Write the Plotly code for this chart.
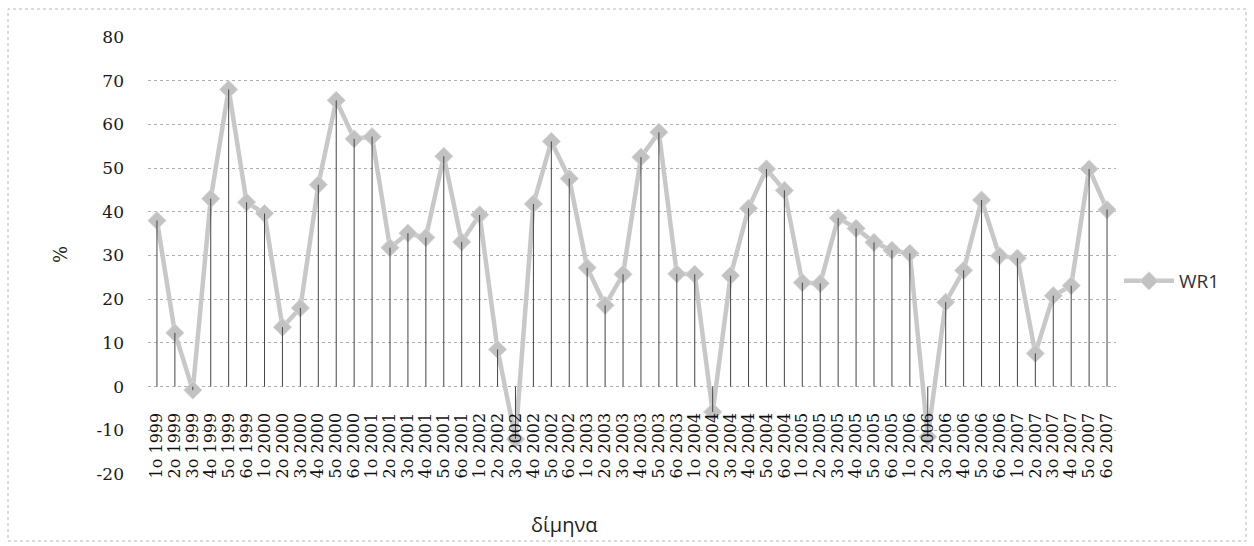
import plotly.graph_objects as go

# Bimonthly periods 1999-2007
years = [1999, 2000, 2001, 2002, 2003, 2004, 2005, 2006, 2007]
bimonths = [1, 2, 3, 4, 5, 6]
periods = [f"{b}ο {y}" for y in years for b in bimonths]

# WR1 values (%) per bimonth
wr1_1999 = [38.0, 12.3, -0.8, 43.0, 68.0, 42.2]
wr1_2000 = [39.6, 13.6, 18.0, 46.2, 65.5, 56.7]
wr1_2001 = [57.2, 31.8, 35.1, 34.1, 52.7, 33.1]
wr1_2002 = [39.3, 8.5, -12.0, 41.8, 56.1, 47.6]
wr1_2003 = [27.2, 18.6, 25.7, 52.5, 58.2, 25.8]
wr1_2004 = [25.7, -5.8, 25.4, 40.8, 49.8, 44.9]
wr1_2005 = [23.8, 23.6, 38.6, 36.2, 33.0, 31.2]
wr1_2006 = [30.5, -11.5, 19.3, 26.6, 42.7, 29.9]
wr1_2007 = [29.4, 7.6, 20.8, 23.1, 49.8, 40.5]
wr1 = wr1_1999 + wr1_2000 + wr1_2001 + wr1_2002 + wr1_2003 + wr1_2004 + wr1_2005 + wr1_2006 + wr1_2007

y_ticks = [-20, -10, 0, 10, 20, 30, 40, 50, 60, 70, 80]
y_tick_text = [str(v) for v in y_ticks]

# Plot-area geometry in pixels
W, H = 1254, 546
L, R, T, B = 148, 138, 37, 72
pw, ph = W - L - R, H - T - B


def px_x(p):
    return (p - L) / pw


def px_y(p):
    return (H - B - p) / ph


fig = go.Figure()

fig.add_trace(go.Scatter(
    x=periods, y=wr1, mode="lines+markers", name="WR1",
    line=dict(color="#c8c8c8", width=4.5),
    marker=dict(symbol="diamond", size=14, color="#c2c2c2",
                line=dict(color="#d8d8d8", width=1)),
))

# Drop lines from the zero level to each point
drop_x, drop_y = [], []
for p, v in zip(periods, wr1):
    drop_x += [p, p, None]
    drop_y += [0, v, None]
fig.add_trace(go.Scatter(
    x=drop_x, y=drop_y, mode="lines", showlegend=False, hoverinfo="skip",
    line=dict(color="#454545", width=1),
))

fig.update_layout(
    width=W, height=H,
    margin=dict(l=L, r=R, t=T, b=B),
    paper_bgcolor="white", plot_bgcolor="white",
    showlegend=True,
    legend=dict(x=px_x(1119), y=px_y(281), xanchor="left", yanchor="middle",
                font=dict(family="Open Sans", size=19, color="#333333"),
                bgcolor="rgba(0,0,0,0)", itemwidth=50),
    xaxis=dict(
        type="category", range=[-0.5, len(periods) - 0.5],
        tickmode="array", tickvals=periods, ticktext=periods,
        anchor="free", position=0.2, side="bottom",
        showgrid=False, zeroline=False, showline=False, ticks="",
        tickangle=-90, ticklabelstandoff=22,
        tickfont=dict(family="DejaVu Serif", size=16, color="#111111"),
    ),
    yaxis=dict(
        range=[-20, 80], tickmode="array", tickvals=y_ticks, ticktext=y_tick_text,
        ticks="", showgrid=True, gridcolor="#b0b0b0", griddash="dot", gridwidth=1,
        zeroline=False, showline=False, ticklabelstandoff=23,
        tickfont=dict(family="DejaVu Serif", size=17, color="#1a1a1a"),
    ),
    annotations=[
        dict(text="δίμηνα", xref="paper", yref="paper", x=px_x(564), y=px_y(524),
             showarrow=False, xanchor="center", yanchor="middle",
             font=dict(family="Open Sans", size=20, color="#222222")),
        dict(text="%", xref="paper", yref="paper", x=px_x(61), y=px_y(255),
             showarrow=False, xanchor="center", yanchor="middle", textangle=-90,
             font=dict(family="DejaVu Serif", size=18, color="#222222")),
    ],
    shapes=[
        dict(type="rect", xref="paper", yref="paper",
             x0=px_x(8), x1=px_x(1246), y0=px_y(541), y1=px_y(9),
             line=dict(color="#b8b8b8", width=1, dash="dot"), layer="below"),
    ],
)

fig.write_html("out.html")
